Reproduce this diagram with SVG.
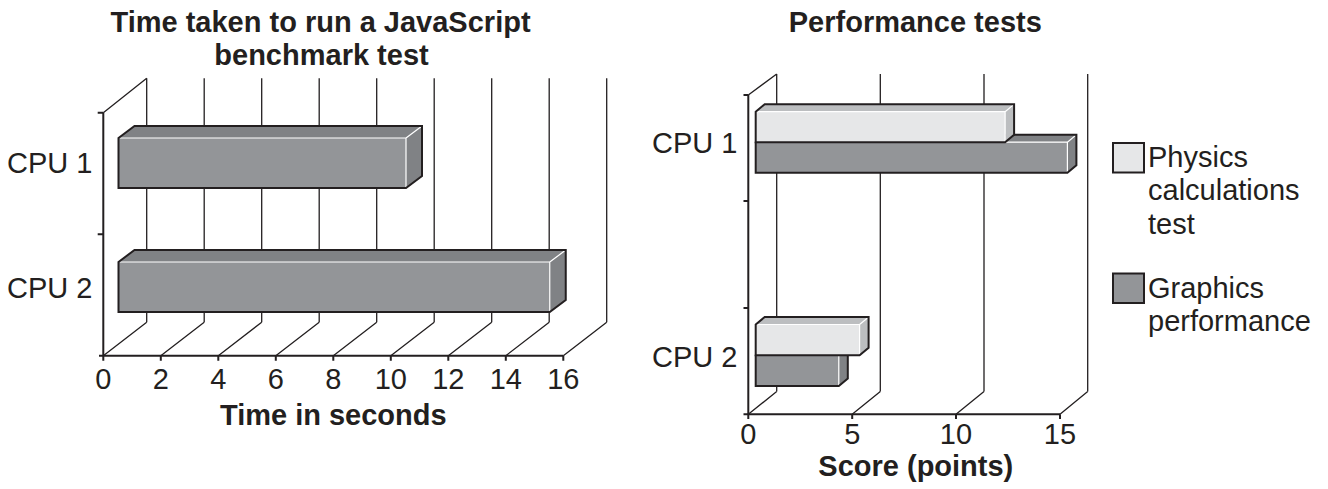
<svg xmlns="http://www.w3.org/2000/svg" width="1328" height="489" viewBox="0 0 1328 489">
<style>
text{font-family:"Liberation Sans",Arial,sans-serif;fill:#231f20;font-size:29px}
.b{font-weight:bold}
.m{text-anchor:middle}
.grid{stroke:#231f20;stroke-width:1.3;fill:none}
.axis{stroke:#231f20;stroke-width:2;fill:none}
.ol{stroke:#231f20;stroke-width:2;fill:none;stroke-linejoin:miter}
.hl{stroke:#ffffff;stroke-width:1.2;fill:none}
.dF{fill:#939598}.dT{fill:#808285}.dS{fill:#808285}
.lF{fill:#e6e7e8}.lT{fill:#bcbec0}.lS{fill:#bcbec0}
</style>
<rect width="1328" height="489" fill="#ffffff"/>

<g id="chart1">
  <g id="chart1-title">
    <text class="b m" x="320.5" y="31.7">Time taken to run a JavaScript</text>
    <text class="b m" x="321.5" y="65">benchmark test</text>
  </g>
  <g id="chart1-grid">
    <path class="grid" d="M146.7,78.3V322.2 M204.2,78.3V322.2 M261.7,78.3V322.2 M319.2,78.3V322.2 M376.7,78.3V322.2 M434.2,78.3V322.2 M491.7,78.3V322.2 M549.2,78.3V322.2 M606.7,78.3V322.2"/>
    <path class="grid" d="M103.3,112.7L146.7,78.3 M103.3,355.7L146.7,322.2 M160.8,355.7L204.2,322.2 M218.3,355.7L261.7,322.2 M275.8,355.7L319.2,322.2 M333.3,355.7L376.7,322.2 M390.8,355.7L434.2,322.2 M448.3,355.7L491.7,322.2 M505.8,355.7L549.2,322.2 M563.3,355.7L606.7,322.2"/>
  </g>
  <g id="chart1-axes">
    <path class="axis" d="M103.3,112.7V355.7 M97.7,112.7H103.3 M97.7,234.3H103.3 M99,355.7H563.3"/>
    <path class="axis" d="M103.3,355.7V360.7 M160.8,355.7V360.7 M218.3,355.7V360.7 M275.8,355.7V360.7 M333.3,355.7V360.7 M390.8,355.7V360.7 M448.3,355.7V360.7 M505.8,355.7V360.7 M563.3,355.7V360.7"/>
  </g>
  <g id="chart1-bar-cpu1">
    <path class="dT" d="M118.5,138L134.5,126H422L406,138Z"/>
    <path class="dS" d="M406,138L422,126V176L406,188Z"/>
    <rect class="dF" x="118.5" y="138" width="287.5" height="50"/>
    <path class="hl" d="M119.5,138H406V187 M406,138L421,126.8"/>
    <path class="ol" d="M118.5,138L134.5,126H422V176L406,188H118.5Z"/>
  </g>
  <g id="chart1-bar-cpu2">
    <path class="dT" d="M118.5,262L134.5,250H565.75L549.75,262Z"/>
    <path class="dS" d="M549.75,262L565.75,250V300L549.75,312Z"/>
    <rect class="dF" x="118.5" y="262" width="431.25" height="50"/>
    <path class="hl" d="M119.5,262H549.75V311 M549.75,262L564.75,250.8"/>
    <path class="ol" d="M118.5,262L134.5,250H565.75V300L549.75,312H118.5Z"/>
  </g>
  <g id="chart1-labels">
    <text x="7" y="173.3">CPU 1</text>
    <text x="7" y="298.3">CPU 2</text>
    <text class="m" x="103.3" y="389.3">0</text>
    <text class="m" x="160.8" y="389.3">2</text>
    <text class="m" x="218.3" y="389.3">4</text>
    <text class="m" x="275.8" y="389.3">6</text>
    <text class="m" x="333.3" y="389.3">8</text>
    <text class="m" x="390.8" y="389.3">10</text>
    <text class="m" x="448.3" y="389.3">12</text>
    <text class="m" x="505.8" y="389.3">14</text>
    <text class="m" x="563.3" y="389.3">16</text>
    <text class="b m" x="333.3" y="425">Time in seconds</text>
  </g>
</g>

<g id="chart2">
  <g id="chart2-title">
    <text class="b m" x="915.3" y="31.7">Performance tests</text>
  </g>
  <g id="chart2-grid">
    <path class="grid" d="M776.7,74V391.5 M880.3,74V391.5 M984,74V391.5 M1087.7,74V391.5"/>
    <path class="grid" d="M748.3,95L776.7,74 M748.3,414.3L776.7,391.5 M852.2,414.3L880.3,391.5 M956,414.3L984,391.5 M1060,414.3L1087.7,391.5"/>
  </g>
  <g id="chart2-axes">
    <path class="axis" d="M748.3,95V414.3 M743.5,95H748.3 M743.5,201H748.3 M743.5,308H748.3 M743.5,414.3H1060"/>
    <path class="axis" d="M748.3,414.3V419 M852.2,414.3V419 M956,414.3V419 M1060,414.3V419"/>
  </g>
  <g id="chart2-bar-cpu1-graphics">
    <path class="dT" d="M755.7,142.2L764.7,134.7H1076.4L1067.4,142.2Z"/>
    <path class="dS" d="M1067.4,142.2L1076.4,134.7V165.2L1067.4,172.7Z"/>
    <rect class="dF" x="755.7" y="142.2" width="311.7" height="30.5"/>
    <path class="hl" d="M1005,142.2H1067.4V171.7 M1067.4,142.2L1075.6,135.4"/>
    <path class="ol" d="M755.7,142.2L764.7,134.7H1076.4V165.2L1067.4,172.7H755.7Z"/>
  </g>
  <g id="chart2-bar-cpu1-physics">
    <path class="lT" d="M755.7,111.7L764.7,104.2H1014.1L1005.1,111.7Z"/>
    <path class="lS" d="M1005.1,111.7L1014.1,104.2V134.7L1005.1,142.2Z"/>
    <rect class="lF" x="755.7" y="111.7" width="249.4" height="30.5"/>
    <path class="hl" d="M756.7,111.7H1005.1V141.2 M1005.1,111.7L1013.3,104.9"/>
    <path class="ol" d="M755.7,111.7L764.7,104.2H1014.1V134.7L1005.1,142.2H755.7Z"/>
  </g>
  <g id="chart2-bar-cpu2-graphics">
    <path class="dT" d="M755.7,355.3L764.7,347.8H847.8L838.8,355.3Z"/>
    <path class="dS" d="M838.8,355.3L847.8,347.8V378.5L838.8,386Z"/>
    <rect class="dF" x="755.7" y="355.3" width="83.1" height="30.7"/>
    <path class="hl" d="M838.8,355.3V385"/>
    <path class="ol" d="M755.7,355.3L764.7,347.8H847.8V378.5L838.8,386H755.7Z"/>
  </g>
  <g id="chart2-bar-cpu2-physics">
    <path class="lT" d="M755.7,324.5L764.7,317H868.6L859.6,324.5Z"/>
    <path class="lS" d="M859.6,324.5L868.6,317V347.8L859.6,355.3Z"/>
    <rect class="lF" x="755.7" y="324.5" width="103.9" height="30.8"/>
    <path class="hl" d="M756.7,324.5H859.6V354.3 M859.6,324.5L867.8,317.7"/>
    <path class="ol" d="M755.7,324.5L764.7,317H868.6V347.8L859.6,355.3H755.7Z"/>
  </g>
  <g id="chart2-labels">
    <text x="652" y="153.3">CPU 1</text>
    <text x="652" y="367.3">CPU 2</text>
    <text class="m" x="748.3" y="444">0</text>
    <text class="m" x="852.2" y="444">5</text>
    <text class="m" x="956" y="444">10</text>
    <text class="m" x="1060" y="444">15</text>
    <text class="b m" x="915.8" y="476">Score (points)</text>
  </g>
</g>

<g id="legend">
  <g id="legend-physics">
    <rect class="lF" x="1113" y="143" width="31" height="29.5" stroke="#231f20" stroke-width="2"/>
    <text x="1148" y="166.7">Physics</text>
    <text x="1148" y="200.3">calculations</text>
    <text x="1148" y="233.5">test</text>
  </g>
  <g id="legend-graphics">
    <rect class="dF" x="1113" y="273.5" width="31" height="29.5" stroke="#231f20" stroke-width="2"/>
    <text x="1148" y="298.3">Graphics</text>
    <text x="1148" y="331.3">performance</text>
  </g>
</g>
</svg>
